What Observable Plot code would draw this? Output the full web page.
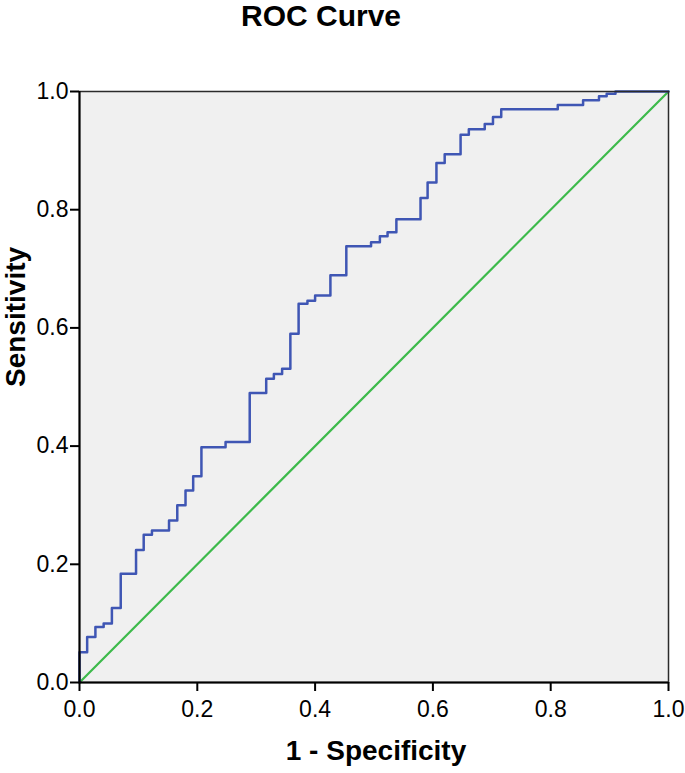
<!DOCTYPE html>
<html>
<head>
<meta charset="utf-8">
<script src="https://cdn.jsdelivr.net/npm/d3@7"></script>
<script src="https://cdn.jsdelivr.net/npm/@observablehq/plot@0.6"></script>
<style>
  html, body { margin: 0; padding: 0; background: #ffffff; }
  #chart { width: 685px; height: 773px; }
  svg text { font-family: "Liberation Sans", Arial, sans-serif; }
</style>
</head>
<body>
<div id="chart"></div>
<script>
// ROC curve points (1 - specificity, sensitivity)
const fpr = [0, 0, 0.013, 0.027, 0.041, 0.055, 0.070, 0.096, 0.109, 0.123, 0.152, 0.166, 0.180, 0.193,
  0.207, 0.248, 0.289, 0.317, 0.330, 0.344, 0.358, 0.372, 0.387, 0.400, 0.426, 0.453, 0.495, 0.510,
  0.523, 0.538, 0.579, 0.591, 0.606, 0.620, 0.647, 0.661, 0.688, 0.702, 0.716, 0.812, 0.855, 0.882,
  0.895, 0.910, 1.0];
const tpr = [0, 0.051, 0.077, 0.094, 0.100, 0.126, 0.184, 0.224, 0.250, 0.257, 0.274, 0.300, 0.325, 0.349,
  0.398, 0.407, 0.490, 0.514, 0.522, 0.531, 0.590, 0.641, 0.646, 0.655, 0.689, 0.738, 0.745, 0.755,
  0.762, 0.784, 0.820, 0.846, 0.879, 0.894, 0.927, 0.936, 0.945, 0.957, 0.970, 0.977, 0.985, 0.992,
  0.996, 1.0, 1.0];
// Reference (chance) line
const refX = [0, 1];
const refY = [0, 1];
const tickValues = [0, 0.2, 0.4, 0.6, 0.8, 1.0];

const curve = fpr.map((x, i) => ({x, y: tpr[i]}));
const diag = refX.map((x, i) => ({x, y: refY[i]}));

const W = 685, H = 773;
const chart = Plot.plot({
  width: W,
  height: H,
  marginTop: 91,
  marginLeft: 79,
  marginRight: 17,
  marginBottom: 91,
  style: {background: "#ffffff", fontFamily: "Liberation Sans, Arial, sans-serif", color: "#000"},
  x: {domain: [0, 1], ticks: tickValues},
  y: {domain: [0, 1], ticks: tickValues},
  marks: [
    Plot.frame({fill: "#f0f0f0", stroke: null}),
    Plot.line(diag, {x: "x", y: "y", stroke: "#3dba4b", strokeWidth: 2.2}),
    Plot.line(curve, {x: "x", y: "y", curve: "step-after", stroke: "#3f56b4", strokeWidth: 2.5}),
    Plot.frame({stroke: "#2b2b2b", strokeWidth: 1.5}),
    Plot.ruleX([0], {stroke: "#000", strokeWidth: 2}),
    Plot.ruleY([0], {stroke: "#000", strokeWidth: 2}),
    Plot.axisX({ticks: tickValues, tickFormat: d3.format(".1f"), tickSize: 9, tickPadding: 9, fontSize: 23, label: null, stroke: "#000", strokeWidth: 2}),
    Plot.axisY({ticks: tickValues, tickFormat: d3.format(".1f"), tickSize: 9, tickPadding: 2, fontSize: 23, label: null, stroke: "#000", strokeWidth: 2}),
    Plot.text(["ROC Curve"], {frameAnchor: "top", dx: -53, dy: -87, fontSize: 30, fontWeight: "bold", fill: "#000"}),
    Plot.text(["1 - Specificity"], {frameAnchor: "bottom", dx: 2, dy: 77, fontSize: 28, fontWeight: "bold", fill: "#000"}),
    Plot.text(["Sensitivity"], {frameAnchor: "left", dx: -63, dy: 0, rotate: -90, fontSize: 28, fontWeight: "bold", fill: "#000"})
  ]
});
document.getElementById("chart").appendChild(chart);
</script>
</body>
</html>
